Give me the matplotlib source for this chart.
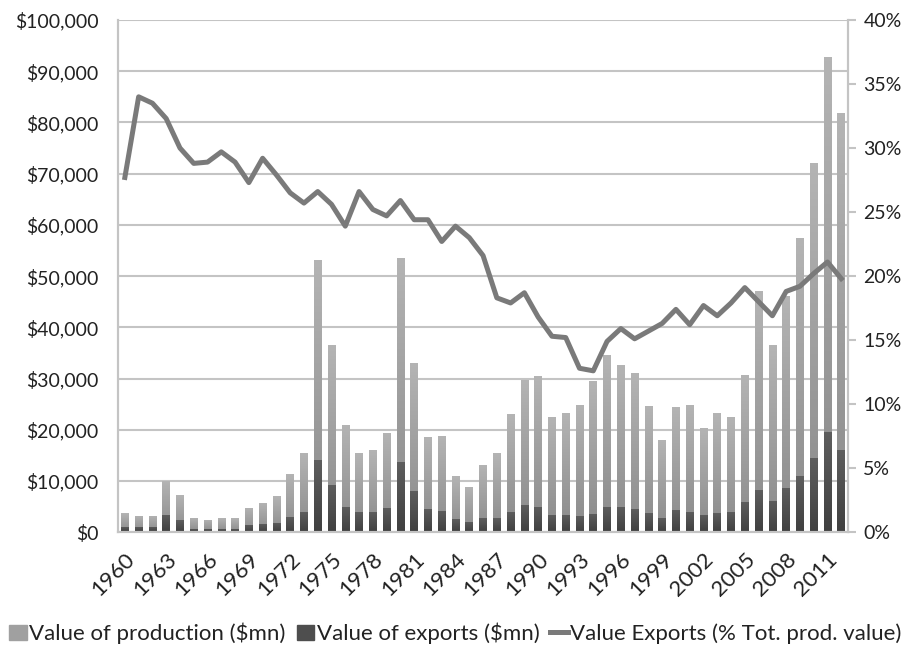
import numpy as np
import matplotlib.pyplot as plt
from matplotlib.patches import Patch
from matplotlib.lines import Line2D
from matplotlib.ticker import FuncFormatter
from matplotlib.colors import LinearSegmentedColormap

years = list(range(1960, 2013))

# value of production ($mn)
production = [3700, 3150, 3150, 10000, 7200, 2800, 2450, 2700, 2700, 4700,
              5700, 7000, 11400, 15500, 53200, 36500, 21000, 15400, 16000, 19400,
              53500, 33000, 18500, 18700, 10900, 8900, 13100, 15400, 23000, 29800,
              30400, 22500, 23300, 24900, 29600, 34500, 32600, 31100, 24700, 18000,
              24400, 24900, 20400, 23200, 22500, 30700, 47000, 36500, 46100, 57500,
              72100, 92800, 81800]

# value of exports ($mn)
exports = [1000, 1000, 1000, 3400, 2300, 700, 700, 700, 700, 1400,
           1600, 1800, 3000, 4000, 14000, 9300, 5000, 4000, 4000, 4700,
           13700, 8100, 4500, 4200, 2500, 2000, 2700, 2700, 4000, 5400,
           5000, 3400, 3400, 3200, 3600, 5000, 5000, 4600, 3700, 2800,
           4400, 4000, 3400, 3700, 4000, 5800, 8300, 6100, 8600, 10900,
           14500, 19500, 16100]

# exports as % of total production value
share = [27.7, 34.0, 33.5, 32.3, 30.0, 28.8, 28.9, 29.7, 28.9, 27.3,
         29.2, 27.9, 26.5, 25.7, 26.6, 25.6, 23.9, 26.6, 25.2, 24.7,
         25.9, 24.4, 24.4, 22.7, 23.9, 23.0, 21.6, 18.3, 17.9, 18.7,
         16.8, 15.3, 15.2, 12.8, 12.6, 14.9, 15.9, 15.1, 15.7, 16.3,
         17.4, 16.2, 17.7, 16.9, 17.9, 19.1, 18.0, 16.9, 18.8, 19.2,
         20.2, 21.1, 19.8]

tick_years = list(range(1960, 2012, 3))

plt.rcParams['font.family'] = ['Lato', 'DejaVu Sans']
plt.rcParams['text.color'] = '#222222'

fig = plt.figure(figsize=(9.11, 6.57), dpi=100)
ax = fig.add_axes([0.1295, 0.19, 0.8015, 0.7796])
ax2 = ax.twinx()

x = np.arange(len(years))
w = 0.55


def gradient_bars(axis, xs, heights, top_col, bot_col):
    # solid bars, then a vertical gradient clipped to each one
    bars = axis.bar(xs, heights, width=w, color=bot_col, zorder=2)
    grad = np.linspace(0, 1, 100).reshape(-1, 1)
    cmap = LinearSegmentedColormap.from_list('g', [bot_col, top_col])
    for b in bars:
        bx, by = b.get_x(), b.get_y()
        bw, bh = b.get_width(), b.get_height()
        im = axis.imshow(grad, cmap=cmap, aspect='auto', origin='lower',
                         extent=[bx, bx + bw, by, by + bh], zorder=2.5)
        im.set_clip_path(b)
    return bars


gradient_bars(ax, x, production, '#b4b4b4', '#8a8a8a')
gradient_bars(ax, x, exports, '#5e5e5e', '#404040')

ax.set_xlim(-0.5, len(years) - 0.5)
ax.set_ylim(0, 100000)
ax.set_yticks(np.arange(0, 100001, 10000))
ax.yaxis.set_major_formatter(FuncFormatter(lambda v, p: '${:,.0f}'.format(v)))
ax.grid(axis='y', color='#c4c4c4', linewidth=1.5, zorder=0)
ax.set_axisbelow(True)

ax.set_xticks([years.index(y) for y in tick_years])
ax.set_xticklabels([str(y) for y in tick_years], rotation=45, ha='right',
                   rotation_mode='anchor', fontsize=16)
ax.tick_params(axis='x', length=0, pad=12, labelcolor='#222222')
ax.tick_params(axis='y', length=0, labelsize=14, pad=14, labelcolor='#222222')

ax2.plot(x, share, color='#7a7a7a', linewidth=3.6, zorder=5)
ax2.set_ylim(0, 40)
ax2.set_yticks(np.arange(0, 41, 5))
ax2.yaxis.set_major_formatter(FuncFormatter(lambda v, p: '{:.0f}%'.format(v)))
ax2.tick_params(axis='y', length=6, width=1.5, color='#c4c4c4', labelsize=14,
                pad=5, labelcolor='#222222')

for a in (ax, ax2):
    a.spines['top'].set_visible(False)
    for s in ('left', 'right', 'bottom'):
        a.spines[s].set_color('#c4c4c4')
        a.spines[s].set_linewidth(1.5)

handles = [Patch(color='#a0a0a0'), Patch(color='#4e4e4e'),
           Line2D([0], [0], color='#7a7a7a', linewidth=3.6)]
labels = ['Value of production ($mn)', 'Value of exports ($mn)',
          'Value Exports (% Tot. prod. value)']
fig.legend(handles, labels, loc='center', bbox_to_anchor=(0.5, 0.036), ncol=3,
           frameon=False, fontsize=16, handlelength=0.8, handletextpad=0.1,
           columnspacing=0.5)

fig.savefig('out.png', dpi=100)
